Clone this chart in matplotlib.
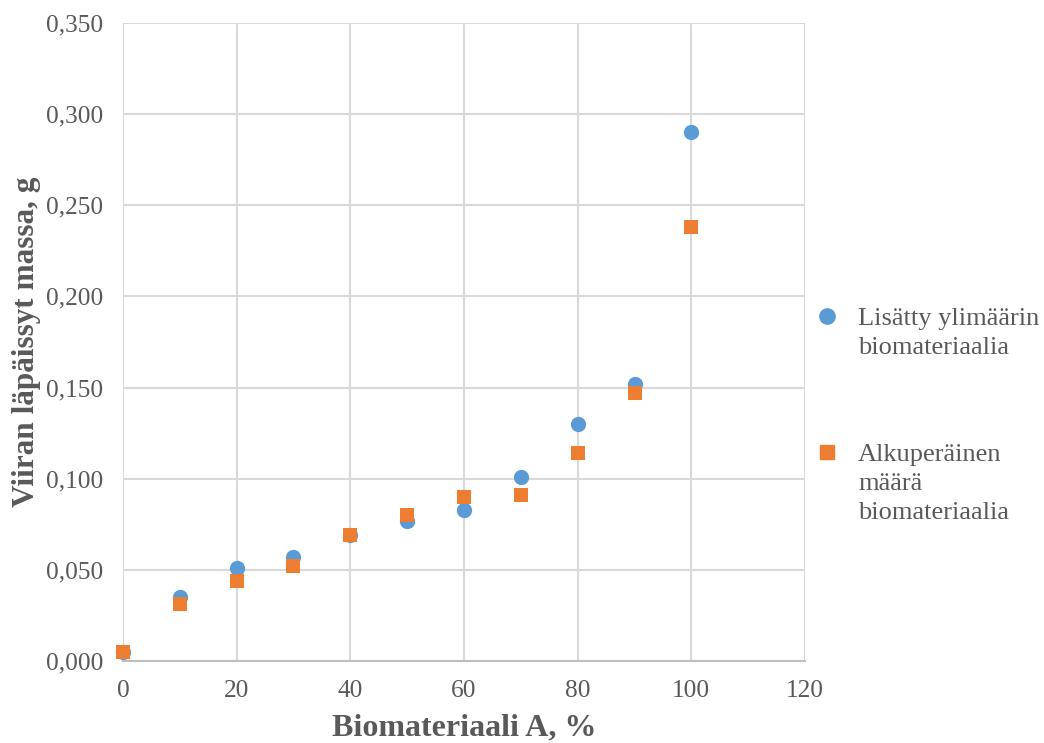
import matplotlib

matplotlib.use("Agg")

import matplotlib.pyplot as plt
from matplotlib.lines import Line2D
from matplotlib.ticker import FuncFormatter, MultipleLocator


# data
biomaterial_pct = [0, 10, 20, 30, 40, 50, 60, 70, 80, 90, 100]
extra_added = [0.005, 0.035, 0.051, 0.057, 0.069, 0.077, 0.083, 0.101, 0.130, 0.152, 0.290]
original_amount = [0.005, 0.031, 0.044, 0.052, 0.069, 0.080, 0.090, 0.091, 0.114, 0.147, 0.238]

series_labels = ["Lisätty ylimäärin\nbiomateriaalia", "Alkuperäinen\nmäärä\nbiomateriaalia"]
x_label = "Biomateriaali A, %"
y_label = "Viiran läpäissyt massa, g"

BLUE = "#5B9BD5"
ORANGE = "#ED7D31"
GRID = "#D9D9D9"
TEXT = "#595959"

plt.rcParams["font.family"] = ["Liberation Serif", "DejaVu Serif"]

fig = plt.figure(figsize=(10.44, 7.43), dpi=100)
ax = fig.add_axes([0.1178, 0.1104, 0.6533, 0.8586])

ax.scatter(biomaterial_pct, extra_added, s=11**2, marker="o", color=BLUE,
           linewidths=0, zorder=3, clip_on=False)
ax.scatter(biomaterial_pct, original_amount, s=10.5**2, marker="s", color=ORANGE,
           linewidths=0, zorder=4, clip_on=False)

ax.set_xlim(0, 120)
ax.set_ylim(0, 0.35)
ax.xaxis.set_major_locator(MultipleLocator(20))
ax.yaxis.set_major_locator(MultipleLocator(0.05))
ax.yaxis.set_major_formatter(FuncFormatter(lambda v, _: f"{v:.3f}".replace(".", ",")))
ax.xaxis.set_major_formatter(FuncFormatter(lambda v, _: f"{v:.0f}"))

ax.grid(True, color=GRID, linewidth=1.5, zorder=0)
ax.set_axisbelow(True)
for side in ["top", "right", "left"]:
    ax.spines[side].set_visible(False)
ax.spines["bottom"].set_color("#BFBFBF")
ax.spines["bottom"].set_linewidth(1.5)
ax.tick_params(length=0, labelsize=18.3, labelcolor=TEXT)
ax.tick_params(axis="y", pad=14)
ax.tick_params(axis="x", pad=14)

ax.set_xlabel(x_label, fontsize=23, fontweight="bold", color=TEXT, labelpad=8)
ax.set_ylabel(y_label, fontsize=22.5, fontweight="bold", color=TEXT, labelpad=4)

# legend drawn by hand so the marker sits on the first text line
legend_rows = [(BLUE, "o", 11, 0.575), (ORANGE, "s", 10.5, 0.392)]
for (color, marker, size, y), label in zip(legend_rows, series_labels):
    fig.add_artist(Line2D([0.792], [y], transform=fig.transFigure, marker=marker,
                          markersize=size, color=color, linestyle="none"))
    fig.text(0.822, y + 0.010, label, fontsize=19, color=TEXT, va="top", ha="left",
             linespacing=1.4)

fig.savefig("out.png", dpi=100)
